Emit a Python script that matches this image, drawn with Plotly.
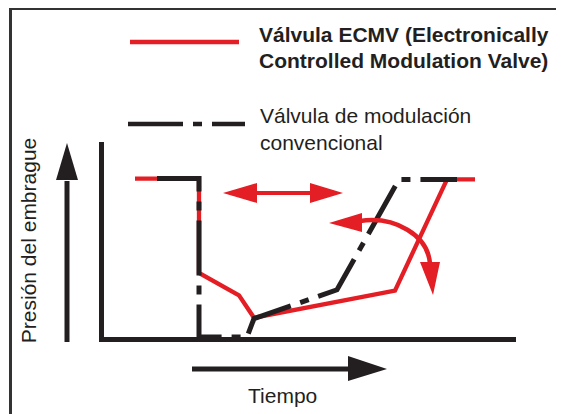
import plotly.graph_objects as go

# ---------------- data (time units vs clutch pressure %) ----------------
ecmv_time = [7.5, 23.5, 23.5, 33.5, 37.25, 72.5, 85.5, 92.5]
ecmv_pressure = [99, 99, 40, 26, 12, 29, 98.5, 98.5]

conv_time = [13, 23.5, 23.5, 35.5, 37.25, 58, 73.5, 88]
conv_pressure = [99, 99, 0, 0, 11.5, 29.5, 98.5, 98.5]

ecmv_label = ["Válvula ECMV (Electronically", "Controlled Modulation Valve)"]
conv_label = ["Válvula de modulación", "convencional"]
y_title = "Presión del embrague"
x_title = "Tiempo"

RED = "#e31e25"
BLACK = "#231f20"
BORDER = "#333333"
FONT = "Liberation Sans, Arial, Helvetica, sans-serif"
DASHDOT = "55px,10px,9px,10px"

PAGE_W, PAGE_H = 564, 414
OFF = 8  # default page margin around the plot div
W, H = PAGE_W - OFF, PAGE_H - OFF

fig = go.Figure()

# main data lines
fig.add_trace(go.Scatter(x=ecmv_time, y=ecmv_pressure, mode="lines",
                         line=dict(color=RED, width=4.3), cliponaxis=False,
                         xaxis="x", yaxis="y", hoverinfo="skip"))
fig.add_trace(go.Scatter(x=conv_time, y=conv_pressure, mode="lines",
                         line=dict(color=BLACK, width=5, dash=DASHDOT), cliponaxis=False,
                         xaxis="x", yaxis="y", hoverinfo="skip"))

# legend samples (page-pixel overlay axes)
fig.add_trace(go.Scatter(x=[130, 239], y=[42, 42], mode="lines",
                         line=dict(color=RED, width=4.3),
                         xaxis="x2", yaxis="y2", hoverinfo="skip"))
fig.add_trace(go.Scatter(x=[128, 245], y=[124, 124], mode="lines",
                         line=dict(color=BLACK, width=4.7, dash=DASHDOT),
                         xaxis="x2", yaxis="y2", hoverinfo="skip"))


def poly(points):
    return "M " + " L ".join(f"{x},{y}" for x, y in points) + " Z"


shapes = []


def line(x0, y0, x1, y1, color, width):
    shapes.append(dict(type="line", xref="x2", yref="y2", x0=x0, y0=y0, x1=x1, y1=y1,
                       line=dict(color=color, width=width), layer="above"))


def head(points, color):
    shapes.append(dict(type="path", xref="x2", yref="y2", path=poly(points),
                       fillcolor=color, line=dict(width=0), layer="above"))


# frame
line(9, 8.5, 564, 8.5, BORDER, 3)
line(10.5, 7, 10.5, 414, BORDER, 3)

# pressure arrow
line(67, 342, 67, 181, BLACK, 5)
head([(56, 180), (78, 180), (67, 143)], BLACK)

# time arrow
line(192, 369, 350, 369, BLACK, 5)
head([(348, 356), (348, 381), (387, 369)], BLACK)

# double-headed horizontal arrow
line(255, 193, 312, 193, RED, 4)
head([(257, 183), (257, 203), (223, 193)], RED)
head([(310, 183), (310, 203), (343, 193)], RED)

# curved arrow
shapes.append(dict(type="path", xref="x2", yref="y2",
                   path="M 360,221 C 395,216 428,235 430,264",
                   line=dict(color=RED, width=4.5), layer="above"))
head([(362, 213), (362, 232), (329, 223)], RED)
head([(420, 262), (440, 262), (433, 295)], RED)

annotations = []


def text(x, y, s, bold=False, anchor="left", angle=0):
    annotations.append(dict(xref="x2", yref="y2", x=x, y=y, text=(f"<b>{s}</b>" if bold else s),
                            showarrow=False, xanchor=anchor, yanchor="middle", textangle=angle,
                            font=dict(family=FONT, size=21, color=BLACK)))


text(257, 34.7, ecmv_label[0], bold=True)
text(257, 60.7, ecmv_label[1], bold=True)
text(258, 115.7, conv_label[0])
text(258, 142.7, conv_label[1])
text(282, 395.7, x_title, anchor="center")
text(28.7, 240.5, y_title, anchor="center", angle=-90)

# plot-area bounds in page pixels
x0px, x1px = 104, 516
ytop, ybot = 142, 337


def fx(px):
    return (px - OFF) / W


def fy(py):
    return (PAGE_H - py) / H


fig.update_layout(
    width=W, height=H, autosize=False,
    margin=dict(l=0, r=0, t=0, b=0, pad=0),
    paper_bgcolor="white", plot_bgcolor="rgba(0,0,0,0)",
    showlegend=False,
    xaxis=dict(domain=[fx(x0px), fx(x1px)], range=[-0.25, (x1px - x0px) / 4 - 0.25],
               showline=True, linewidth=5, linecolor=BLACK, showgrid=False,
               zeroline=False, showticklabels=False, ticks="", fixedrange=True),
    yaxis=dict(domain=[fy(ybot), fy(ytop)], range=[0, (ybot - ytop) / 1.6],
               showline=True, linewidth=5, linecolor=BLACK, showgrid=False,
               zeroline=False, showticklabels=False, ticks="", fixedrange=True),
    xaxis2=dict(domain=[0, 1], range=[OFF, PAGE_W], visible=False, anchor="y2", fixedrange=True),
    yaxis2=dict(domain=[0, 1], range=[PAGE_H, OFF], visible=False, anchor="x2", fixedrange=True),
    shapes=shapes,
    annotations=annotations,
)

fig.write_html("out.html")
